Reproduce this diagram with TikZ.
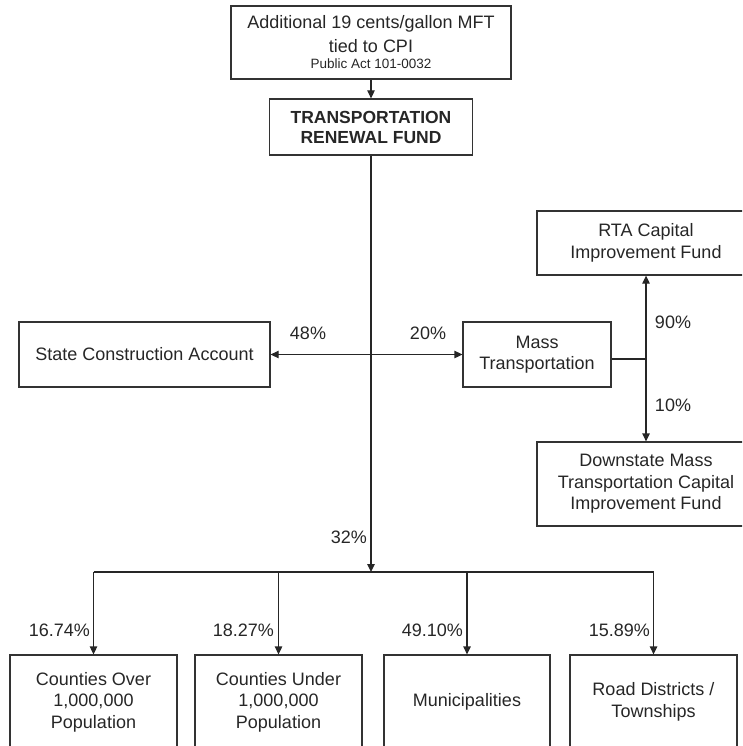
\documentclass[tikz,border=0pt]{standalone}
\usepackage{fontspec}
\setmainfont{Liberation Sans}
\usetikzlibrary{arrows.meta}
\begin{document}
\tikzset{
  box/.style={draw=black!80, line width=1.3pt, align=center, inner sep=0pt,
    text=black!85, font=\fontsize{18}{21.5}\selectfont},
  conn/.style={draw=black!85, line width=1.3pt},
  tip/.tip={Triangle[length=8pt,width=7.5pt]},
  arr/.style={conn, -tip},
  pct/.style={text=black!85, font=\fontsize{18}{21.5}\selectfont, inner sep=0pt},
}
\begin{tikzpicture}[x=1pt,y=-1pt]
\useasboundingbox (0,0) rectangle (742,746);
\clip (0,0) rectangle (742,746);
% boxes
\node[box, minimum width=280pt, minimum height=73pt] (top) at (371,42.5)
  {Additional 19 cents/gallon MFT\\[2pt] tied to CPI\\[-5pt]
   {\fontsize{13.5}{16}\selectfont Public Act 101-0032}};
\node[box, font=\bfseries\fontsize{17.5}{20}\selectfont, minimum width=203pt, minimum height=56pt]
  (trf) at (371,127) {TRANSPORTATION\\RENEWAL FUND};
\node[box, minimum width=251pt, minimum height=65pt] (sca) at (144.5,354.5) {State Construction Account};
\node[box, minimum width=148pt, minimum height=65pt] (mass) at (537,354.5) {Mass\\Transportation};
\node[box, minimum width=218pt, minimum height=64pt] (rta) at (646,243) {RTA Capital\\Improvement Fund};
\node[box, minimum width=218pt, minimum height=84pt] (dsm) at (646,484)
  {Downstate Mass\\Transportation Capital\\Improvement Fund};
\node[box, minimum width=167pt, minimum height=94pt] (b1) at (93.5,702) {Counties Over\\1,000,000\\Population};
\node[box, minimum width=167pt, minimum height=94pt] (b2) at (278.5,702) {Counties Under\\1,000,000\\Population};
\node[box, minimum width=166pt, minimum height=94pt] (b3) at (467,702) {Municipalities};
\node[box, minimum width=167pt, minimum height=94pt] (b4) at (653.5,702) {Road Districts /\\Townships};
% connectors
\coordinate (split) at (371,572);
\coordinate (j) at (646,359);
\draw[arr] (top) -- (trf);
\draw[arr] (trf.south) -- (split);
\draw[conn] (b1.north |- split) -- (b4.north |- split);
\draw[arr] (b1.north |- split) -- (b1.north);
\draw[arr] (b2.north |- split) -- (b2.north);
\draw[arr] (b3.north |- split) -- (b3.north);
\draw[arr] (b4.north |- split) -- (b4.north);
\draw[conn, tip-tip] (sca) -- (mass);
\draw[conn] (mass.east |- j) -- (j);
\draw[arr] (j) -- (rta.south);
\draw[arr] (j) -- (dsm.north);
% labels
\node[pct] (l48) at (308,333) {48\%};
\node[pct] (l20) at (428,333) {20\%};
\node[pct] (l90) at (673,322) {90\%};
\node[pct] (l10) at (673,405) {10\%};
\node[pct, anchor=east] (l32) at (367,537) {32\%};
\node[pct, anchor=east] (p1) at (90,630) {16.74\%};
\node[pct, anchor=east] (p2) at (274,630) {18.27\%};
\node[pct, anchor=east] (p3) at (463,630) {49.10\%};
\node[pct, anchor=east] (p4) at (650,630) {15.89\%};
\end{tikzpicture}
\end{document}
